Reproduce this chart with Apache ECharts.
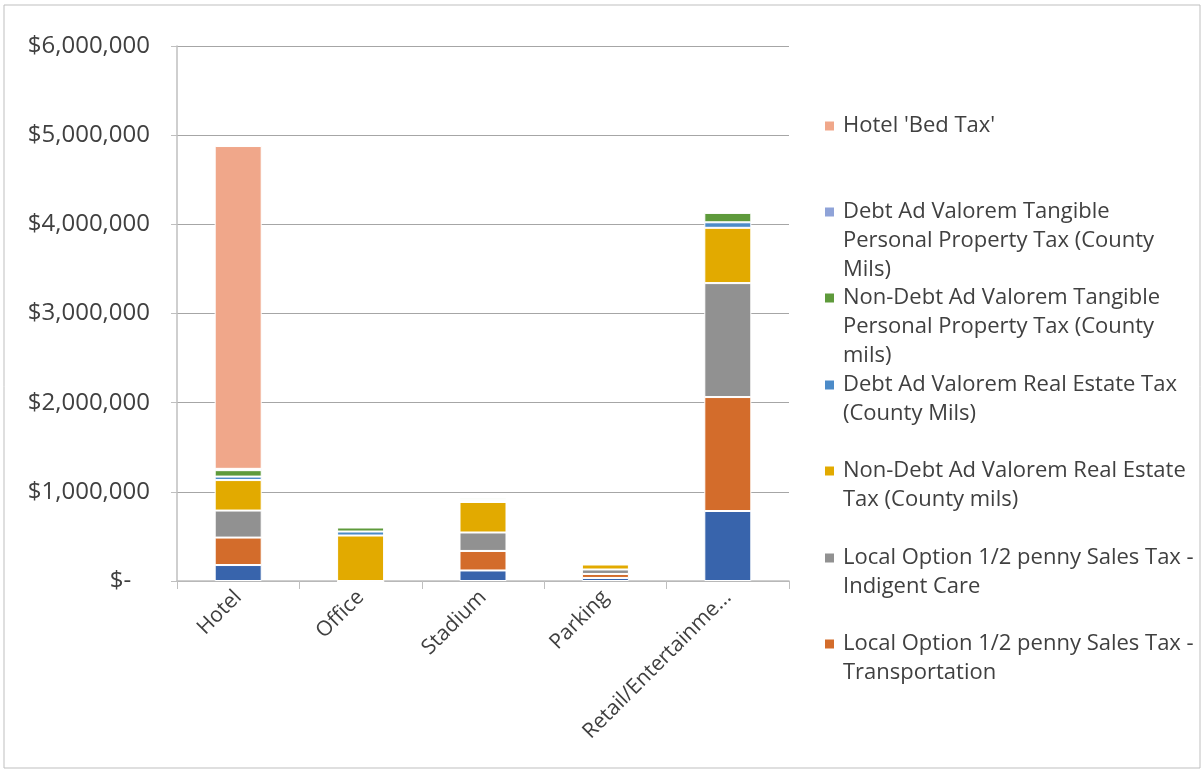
<!DOCTYPE html>
<html>
<head>
<meta charset="utf-8">
<script src="https://cdn.jsdelivr.net/npm/echarts@6/dist/echarts.min.js"></script>
<style>
  html, body { margin: 0; padding: 0; background: #fff; }
  #main { width: 1203px; height: 772px; }
</style>
</head>
<body>
<div id="main"></div>
<script>
  // categories and values (stack order: bottom -> top)
  const categories = ['Hotel', 'Office', 'Stadium', 'Parking', 'Retail/Entertainment']
  const yTicks = [0, 1000000, 2000000, 3000000, 4000000, 5000000, 6000000]

  const salesTaxOther = [179000, 0, 118000, 34000, 785000]
  const transportation = [308000, 0, 219000, 45000, 1278000]
  const indigentCare = [303000, 0, 207000, 50000, 1278000]
  const nonDebtRealEstate = [342000, 510000, 342000, 56000, 620000]
  const debtRealEstate = [39000, 45000, 22000, 3000, 62000]
  const nonDebtTangible = [72000, 45000, 22000, 3000, 105000]
  const debtTangible = [15000, 5000, 10000, 2000, 10000]
  const bedTax = [3620000, 0, 0, 0, 0]

  const seriesNames = [
    'Sales Tax',
    'Local Option 1/2 penny Sales Tax - Transportation',
    'Local Option 1/2 penny Sales Tax - Indigent Care',
    'Non-Debt Ad Valorem Real Estate Tax (County mils)',
    'Debt Ad Valorem Real Estate Tax (County Mils)',
    'Non-Debt Ad Valorem Tangible Personal Property Tax (County mils)',
    'Debt Ad Valorem Tangible Personal Property Tax (County Mils)',
    "Hotel 'Bed Tax'"
  ]
  const seriesData = [salesTaxOther, transportation, indigentCare, nonDebtRealEstate,
    debtRealEstate, nonDebtTangible, debtTangible, bedTax]
  const seriesColors = ['#3864ac', '#d36c2b', '#919191', '#e2aa00', '#4c8bc8', '#5e9a3b', '#8fa3d8', '#f0a78a']

  // legend text wrapped like the original
  const legendLines = {
    "Hotel 'Bed Tax'": ["Hotel 'Bed Tax'"],
    'Debt Ad Valorem Tangible Personal Property Tax (County Mils)': ['Debt Ad Valorem Tangible', 'Personal Property Tax (County', 'Mils)'],
    'Non-Debt Ad Valorem Tangible Personal Property Tax (County mils)': ['Non-Debt Ad Valorem Tangible', 'Personal Property Tax (County', 'mils)'],
    'Debt Ad Valorem Real Estate Tax (County Mils)': ['Debt Ad Valorem Real Estate Tax', '(County Mils)'],
    'Non-Debt Ad Valorem Real Estate Tax (County mils)': ['Non-Debt Ad Valorem Real Estate', 'Tax (County mils)'],
    'Local Option 1/2 penny Sales Tax - Indigent Care': ['Local Option 1/2 penny Sales Tax -', 'Indigent Care'],
    'Local Option 1/2 penny Sales Tax - Transportation': ['Local Option 1/2 penny Sales Tax -', 'Transportation']
  }
  const legendOrder = [7, 6, 5, 4, 3, 2, 1]
  const legendIconY = [126, 212, 298, 385, 471, 558, 644]
  const lineH = 29

  let chart = echarts.init(document.getElementById('main'))

  function money (v) {
    if (v === 0) return '$-   '
    return '$' + v.toLocaleString('en-US')
  }

  let legends = legendOrder.map((idx, i) => {
    let name = seriesNames[idx]
    let n = legendLines[name].length
    return {
      orient: 'vertical',
      left: 823,
      top: legendIconY[i] - (2 * n - 1) * lineH / 2,
      padding: 0,
      itemWidth: 11,
      itemHeight: 11,
      icon: 'rect',
      selectedMode: false,
      data: [name],
      formatter: nm => {
        let lines = legendLines[nm]
        // blank lines in front keep the first line level with the icon
        return new Array(lines.length - 1).fill('').concat(lines).join('\n')
      },
      textStyle: {
        fontFamily: 'Open Sans',
        fontSize: 22,
        color: '#404040',
        lineHeight: lineH,
        padding: [0, 0, 0, 3]
      }
    }
  })

  chart.setOption({
    animation: false,
    backgroundColor: '#ffffff',
    graphic: [{
      type: 'rect',
      shape: { x: 4, y: 5, width: 1196, height: 763 },
      style: { fill: 'none', stroke: '#bfbfbf', lineWidth: 1 },
      silent: true
    }],
    legend: legends,
    grid: {
      left: 177,
      right: 414,
      top: 46,
      bottom: 191
    },
    xAxis: {
      type: 'category',
      data: categories,
      axisLine: { lineStyle: { color: '#bfbfbf', width: 1.5 } },
      axisTick: { show: true, length: 8, lineStyle: { color: '#bfbfbf' } },
      axisLabel: {
        rotate: 45,
        margin: 13,
        fontFamily: 'Open Sans',
        fontSize: 21,
        color: '#404040',
        formatter: v => v.length > 18 ? v.slice(0, 18) + '...' : v
      }
    },
    yAxis: {
      type: 'value',
      min: yTicks[0],
      max: yTicks[yTicks.length - 1],
      interval: 1000000,
      axisLine: { show: true, lineStyle: { color: '#bfbfbf', width: 1.5 } },
      axisTick: { show: true, length: 6, lineStyle: { color: '#bfbfbf' } },
      splitLine: { lineStyle: { color: '#a6a6a6', width: 1 } },
      axisLabel: {
        margin: 27,
        fontFamily: 'Open Sans',
        fontSize: 24,
        color: '#404040',
        formatter: money
      }
    },
    series: seriesData.map((d, i) => ({
      name: seriesNames[i],
      type: 'bar',
      stack: 'total',
      barWidth: 47,
      data: d,
      itemStyle: { color: seriesColors[i], borderColor: '#ffffff', borderWidth: 1 }
    }))
  })
</script>
</body>
</html>
